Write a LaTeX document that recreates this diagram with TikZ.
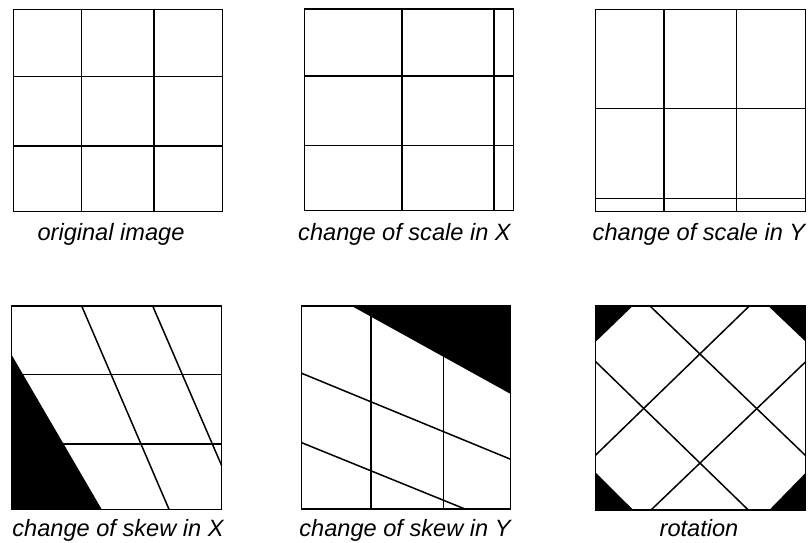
\documentclass[tikz,border=0pt]{standalone}
\usepackage{fontspec}
\setmainfont{Liberation Sans}
\begin{document}
\begin{tikzpicture}[x=1pt,y=-1pt,
  gridline/.style={line width=1.5pt,black},
  frame/.style={line width=1.5pt,black},
  blackfill/.style={fill=black,draw=none},
  caption/.style={anchor=base,inner sep=0pt,font=\fontsize{23.6}{26}\selectfont\itshape}]
\useasboundingbox[fill=white] (0,0) rectangle (811,543);

% Panel 1: original image
\draw[gridline] (81.7,9.3) -- (81.7,211.3) (154,9.3) -- (154,211.3);
\draw[gridline] (13.3,76.3) -- (222.7,76.3) (13.3,146) -- (222.7,146);
\draw[frame] (13.3,9.3) rectangle (222.7,211.3);
\node[caption] (c1) at (111,240) {original image};

% Panel 2: change of scale in X
\draw[gridline] (402,9) -- (402,210.7) (494,9) -- (494,210.7);
\draw[gridline] (304.3,76) -- (513.7,76) (304.3,145.7) -- (513.7,145.7);
\draw[frame] (304.3,9) rectangle (513.7,210.7);
\node[caption] (c2) at (404.5,240) {change of scale in X};

% Panel 3: change of scale in Y
\draw[gridline] (664,9.3) -- (664,211.3) (736.7,9.3) -- (736.7,211.3);
\draw[gridline] (595.7,108.7) -- (805.3,108.7) (595.7,198.7) -- (805.3,198.7);
\draw[frame] (595.7,9.3) rectangle (805.3,211.3);
\node[caption] (c3) at (699,240) {change of scale in Y};

% Panel 4: change of skew in X
\draw[gridline] (11.7,374.3) -- (221.7,374.3) (11.7,444) -- (221.7,444);
\draw[gridline] (81.7,306) -- (169,509.3) (152.7,306) -- (221.7,465.7);
\fill[blackfill] (11.7,355) -- (101.7,509.3) -- (11.7,509.3) -- cycle;
\draw[frame] (11.7,306) rectangle (221.7,509.3);
\node[caption] (c4) at (118,536) {change of skew in X};

% Panel 5: change of skew in Y
\draw[gridline] (371,306) -- (371,509) (443.3,306) -- (443.3,509);
\draw[gridline] (301.7,373.3) -- (510.7,459.3) (301.7,442.7) -- (465,509);
\fill[blackfill] (351.7,306) -- (510.7,306) -- (510.7,394) -- cycle;
\draw[frame] (301.7,306) rectangle (510.7,509);
\node[caption] (c5) at (405,536) {change of skew in Y};

% Panel 6: rotation
\draw[gridline] (650,306) -- (805.7,455.7) (749.3,306) -- (595.7,455);
\draw[gridline] (595.7,361.7) -- (748.3,510) (805.7,361.7) -- (651,510);
\fill[blackfill] (595.7,306) -- (632.7,306) -- (595.7,341.7) -- cycle;
\fill[blackfill] (768.3,306) -- (805.7,306) -- (805.7,341.7) -- cycle;
\fill[blackfill] (595.7,472.7) -- (595.7,510) -- (633.3,510) -- cycle;
\fill[blackfill] (769.3,510) -- (805.7,510) -- (805.7,472.7) -- cycle;
\draw[frame] (595.7,306) rectangle (805.7,510);
\node[caption] (c6) at (699,536) {rotation};
\end{tikzpicture}
\end{document}
